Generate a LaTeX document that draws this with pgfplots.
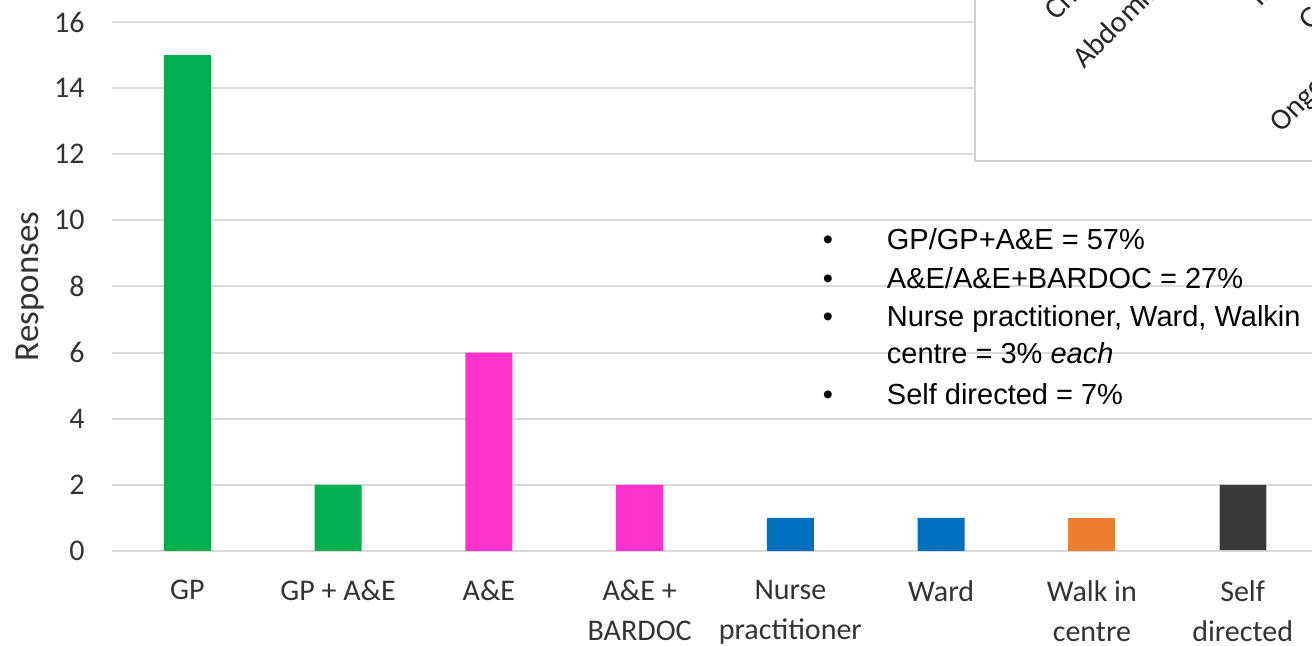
\documentclass[border=0pt]{standalone}
\usepackage{pgfplots}
\pgfplotsset{compat=1.18}
\usepackage{fontspec}
\setmainfont{Carlito}
\newfontfamily\arialf{Liberation Sans}
\definecolor{cgreen}{HTML}{00B050}
\definecolor{cpink}{HTML}{FF33CC}
\definecolor{cblue}{HTML}{0070C0}
\definecolor{corange}{HTML}{ED7D31}
\definecolor{cdark}{HTML}{3B3838}
\definecolor{gridgray}{HTML}{D9D9D9}
\definecolor{boxgray}{HTML}{D0D0D0}
\definecolor{ticktext}{HTML}{333333}
\begin{document}
\begin{tikzpicture}[x=1pt,y=1pt]
\useasboundingbox (0,0) rectangle (656,323);
\clip (0,0) rectangle (656,323);
\begin{axis}[
  at={(56pt,47.5pt)}, anchor=south west,
  scale only axis, width=600pt, height=264.5pt,
  xmin=-0.5, xmax=7.46, ymin=0, ymax=16,
  ytick={0,2,...,16},
  xtick={0,1,...,7},
  xticklabels={GP, GP + A\&E, A\&E, {A\&E +\\BARDOC}, {Nurse\\practitioner}, Ward, {Walk in\\centre}, {Self\\directed}},
  ymajorgrids,
  grid style={color=gridgray, line width=1pt},
  axis line style={draw=none},
  major tick length=0pt,
  /pgf/number format/assume math mode=true,
  yticklabel style={font=\fontsize{15}{17}\selectfont, text=ticktext, anchor=east, inner sep=0pt, xshift=-13.5pt},
  xticklabel style={font=\fontsize{15}{20}\selectfont, text=ticktext, anchor=north, align=center, inner sep=0pt, yshift=-14.5pt},
  every axis y label/.style={at={(rel axis cs:0,0.5)}, xshift=-41pt, rotate=90, anchor=center, font=\fontsize{17.5}{19}\selectfont, text=ticktext},
  ylabel={Responses},
  clip=false,
]
\addplot[ybar, bar shift=0pt, bar width=23.5pt, fill=cgreen, draw=none] coordinates {(0,15) (1,2)};
\addplot[ybar, bar shift=0pt, bar width=23.5pt, fill=cpink, draw=none] coordinates {(2,6) (3,2)};
\addplot[ybar, bar shift=0pt, bar width=23.5pt, fill=cblue, draw=none] coordinates {(4,1) (5,1)};
\addplot[ybar, bar shift=0pt, bar width=23.5pt, fill=corange, draw=none] coordinates {(6,1)};
\addplot[ybar, bar shift=0pt, bar width=23.5pt, fill=cdark, draw=gray!45, line width=0.5pt] coordinates {(7,2)};
\end{axis}
% overlapping inset chart (partially visible)
\draw[draw=boxgray, line width=1.3pt, fill=white] (487.5,242.5) rectangle (720,400);
\begin{scope}[every node/.style={font=\fontsize{15}{17}\selectfont, text=black!85, rotate=45, anchor=base west, inner sep=0pt}]
\node at (528,312) {Chest pain};
\node at (542,288) {Abdominal pain};
\node at (630,319) {Infection};
\node at (655,307) {Gastro};
\node at (640.5,256) {Ongoing symptoms};
\end{scope}
% text box
\begin{scope}[every node/.style={font=\arialf\fontsize{14.5}{17}\selectfont, inner sep=0pt}]
\node[anchor=base] at (414,198) {•};
\node[anchor=base] at (414,178.75) {•};
\node[anchor=base] at (414,159.5) {•};
\node[anchor=base] at (414,120.5) {•};
\node[anchor=base west] at (443.25,198) {GP/GP+A\&E = 57\%};
\node[anchor=base west] at (443.25,178.75) {A\&E/A\&E+BARDOC = 27\%};
\node[anchor=base west] at (443.25,159.5) {Nurse practitioner, Ward, Walkin};
\node[anchor=base west] at (443.25,141) {centre = 3\% \textit{each}};
\node[anchor=base west] at (443.25,120.5) {Self directed = 7\%};
\end{scope}
\end{tikzpicture}
\end{document}
